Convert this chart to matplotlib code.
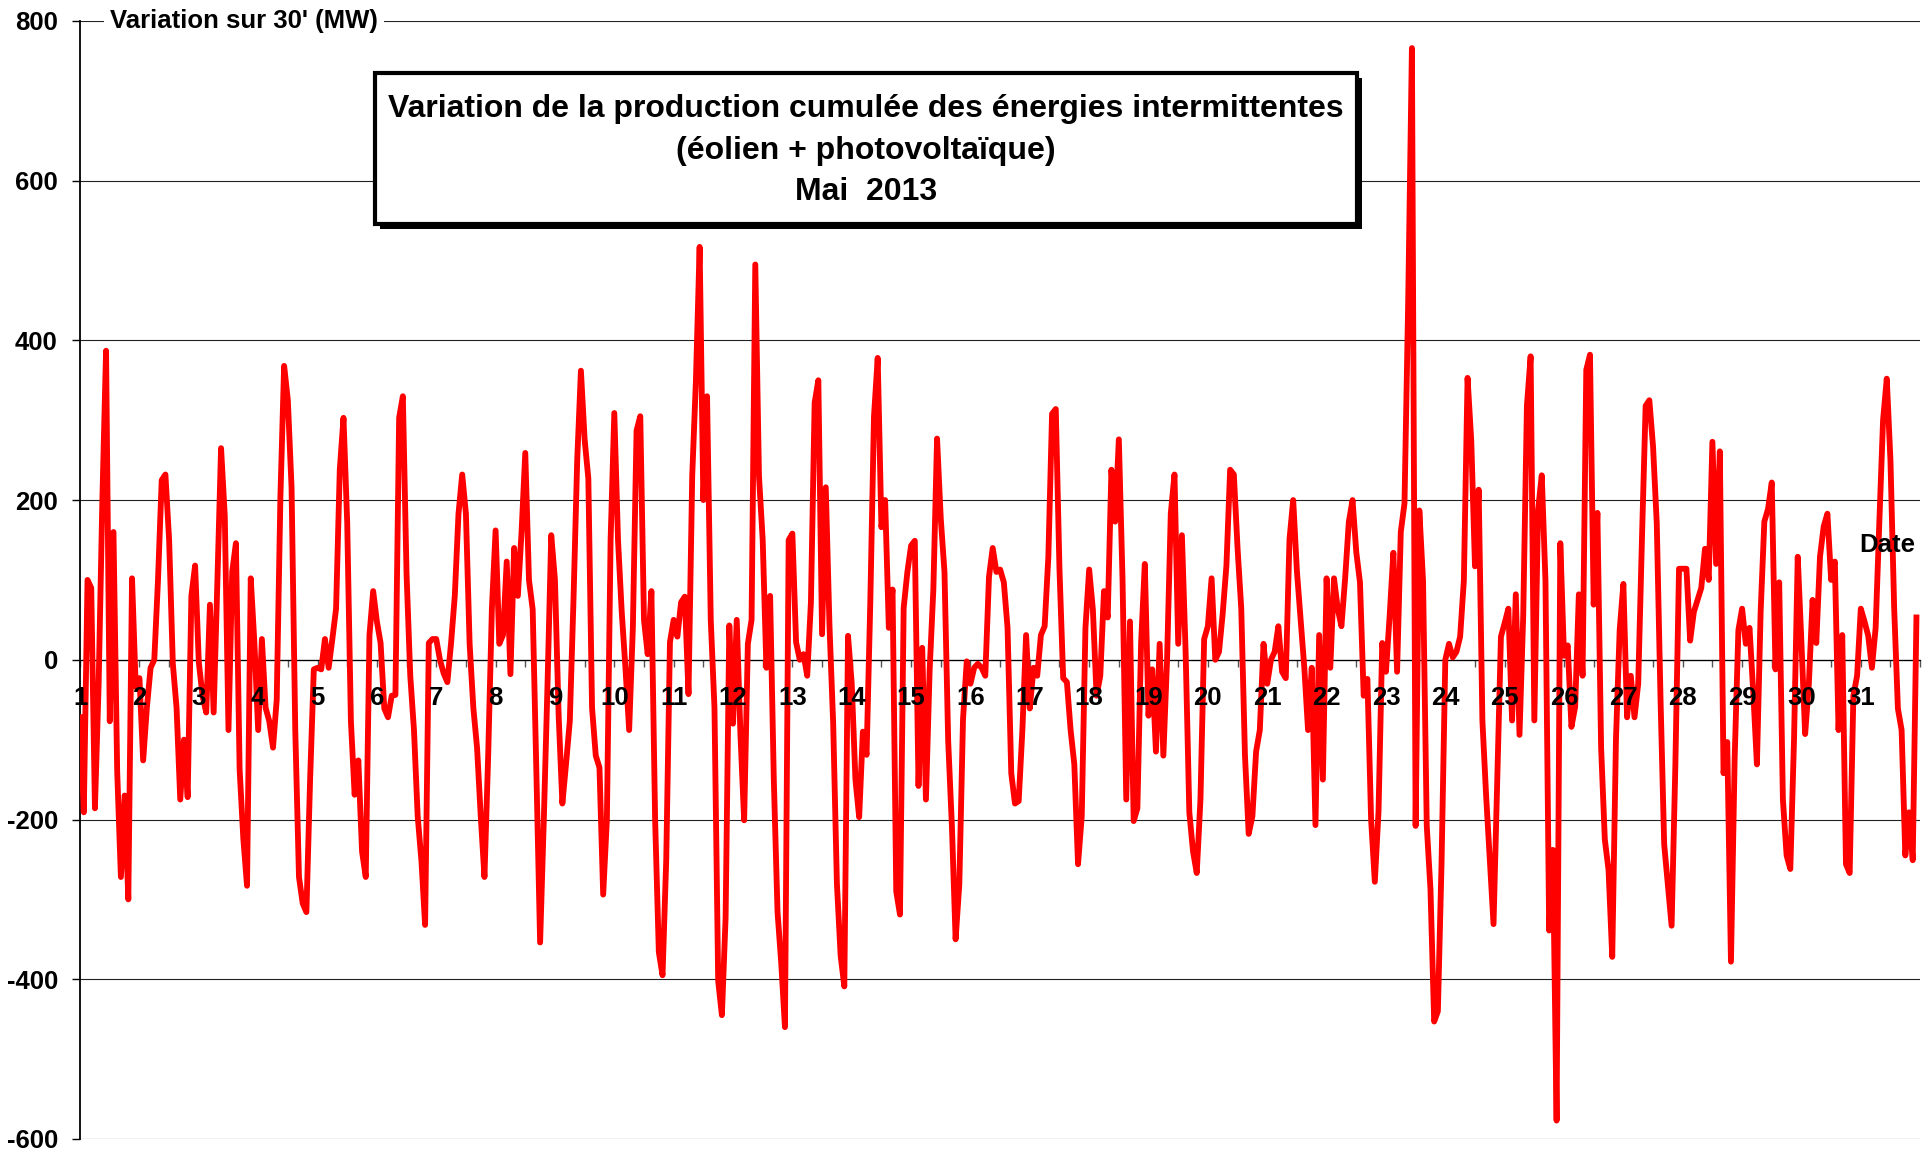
import numpy as np
import matplotlib
matplotlib.use("Agg")
import matplotlib.pyplot as plt
import matplotlib.transforms as mtransforms
from matplotlib.patches import Rectangle

plt.rcParams['font.family'] = ['Liberation Sans', 'DejaVu Sans']

day01 = [-72, -191, 100, 90, -186, -30, 200, 387, -77, 160, -140, -272, -170, -300, 102, -34]
day02 = [-23, -126, -60, -10, 0, 100, 225, 232, 150, -5, -60, -175, -100, -172, 80, 118]
day03 = [-3, -45, -66, 69, -66, 97, 265, 180, -88, 110, 146, -137, -224, -283, 102, 20]
day04 = [-88, 26, -60, -77, -110, -50, 205, 368, 325, 216, -88, -272, -305, -316, -150, -12]
day05 = [-10, -12, 26, -10, 26, 64, 238, 303, 172, -77, -169, -126, -240, -272, 31, 86]
day06 = [48, 21, -61, -72, -45, -44, 303, 330, 107, -20, -88, -196, -251, -332, 21, 26]
day07 = [26, 0, -17, -28, 21, 80, 183, 232, 183, 20, -60, -110, -196, -272, -120, 64]
day08 = [162, 20, 31, 123, -18, 140, 80, 160, 259, 100, 63, -142, -354, -200, -30, 156]
day09 = [100, -70, -180, -130, -77, 75, 250, 362, 276, 227, -60, -120, -135, -294, -200, 150]
day10 = [309, 150, 60, -10, -88, 40, 287, 305, 50, 7, 86, -200, -366, -395, -250, 22]
day11 = [50, 29, 72, 79, -43, 230, 350, 517, 200, 330, 50, -60, -402, -445, -323, 43]
day12 = [-80, 50, -93, -201, 20, 50, 495, 230, 150, -10, 80, -151, -316, -380, -460, 150]
day13 = [158, 22, 0, 7, -20, 72, 322, 350, 32, 216, 43, -80, -280, -370, -409, 30]
day14 = [-30, -150, -197, -90, -119, 71, 305, 378, 166, 200, 40, 88, -290, -319, 65, 110]
day15 = [143, 149, -158, 15, -175, -13, 88, 277, 177, 110, -102, -208, -350, -281, -74, -2]
day16 = [-30, -10, -5, -10, -20, 104, 140, 110, 113, 97, 40, -142, -180, -177, -88, 31]
day17 = [-61, -10, -20, 31, 42, 129, 308, 314, 113, -23, -28, -88, -131, -256, -196, 40]
day18 = [113, 63, -45, -20, 86, 53, 238, 173, 276, 100, -175, 48, -202, -186, 21, 120]
day19 = [-70, -12, -115, 20, -120, 0, 183, 232, 20, 156, 10, -191, -240, -267, -175, 26]
day20 = [42, 102, 0, 10, 58, 118, 238, 232, 140, 64, -120, -218, -196, -115, -88, 20]
day21 = [-30, 0, 10, 42, -15, -23, 151, 200, 111, 50, -10, -88, -10, -207, 31, -150]
day22 = [102, -10, 102, 64, 42, 102, 173, 200, 135, 97, -45, -24, -200, -278, -190, 21]
day23 = [-15, 55, 134, -15, 160, 196, 450, 766, -208, 187, 99, -208, -287, -453, -440, -252]
day24 = [0, 20, 3, 10, 29, 99, 353, 274, 117, 213, -76, -170, -250, -331, -150, 29]
day25 = [46, 64, -76, 82, -94, 55, 318, 380, -76, 187, 231, 99, -339, -238, -577, 146]
day26 = [5, 18, -84, -59, 82, -20, 363, 382, 69, 184, -110, -225, -263, -372, -100, 37]
day27 = [95, -72, -20, -72, -30, 150, 318, 325, 267, 171, -46, -231, -282, -333, -135, 114]
day28 = [114, 114, 24, 60, 75, 90, 139, 100, 273, 120, 261, -142, -103, -378, -123, 37]
day29 = [64, 20, 40, -40, -131, 60, 173, 189, 222, -12, 97, -175, -245, -262, -100, 129]
day30 = [21, -93, -30, 75, 21, 129, 167, 183, 100, 123, -88, 31, -256, -267, -45, -20]
day31 = [64, 48, 30, -10, 40, 173, 300, 352, 249, 64, -61, -88, -245, -191, -251, 53]

days = list(range(1, 32))
points_per_day = 16
variation_mw = (day01 + day02 + day03 + day04 + day05 + day06 + day07 + day08
                + day09 + day10 + day11 + day12 + day13 + day14 + day15 + day16
                + day17 + day18 + day19 + day20 + day21 + day22 + day23 + day24
                + day25 + day26 + day27 + day28 + day29 + day30 + day31)
y_ticks = [-600, -400, -200, 0, 200, 400, 600, 800]

title_lines = ["Variation de la production cumulée des énergies intermittentes",
               "(éolien + photovoltaïque)",
               "Mai  2013"]

# temps en jours depuis le 1er mai 0h
t = np.arange(len(variation_mw)) / points_per_day

fig = plt.figure(figsize=(19.3, 11.55), dpi=100)
ax = fig.add_axes([0.0415, 0.0139, 0.9534, 0.968])

ax.plot(t, variation_mw, color='#ff0000', lw=4.2, solid_joinstyle='round', zorder=3)

ax.set_xlim(0, len(days))
ax.set_ylim(y_ticks[0], y_ticks[-1])

for s in ['top', 'right']:
    ax.spines[s].set_visible(False)
ax.spines['bottom'].set_position(('data', 0))
ax.spines['bottom'].set_linewidth(0.9)
ax.spines['left'].set_linewidth(1.3)

# axe vertical
ax.set_yticks(y_ticks)
ax.set_yticklabels([str(v) for v in y_ticks], fontsize=18.5, fontweight='bold')
ax.tick_params(axis='y', direction='out', length=6, width=1, pad=10)
ax.yaxis.grid(True, color='#222222', lw=0.8)

# graduations toutes les demi-journées, numéros des jours à la main
ax.set_xticks(np.arange(0, len(days) + 0.5, 0.5))
ax.set_xticklabels([])
ax.tick_params(axis='x', direction='out', length=5, width=1, color='#555555')
for i, d in enumerate(days):
    ax.text(i, -48, str(d), ha='center', va='center', fontsize=18.5,
            fontweight='bold', zorder=5)

trans = mtransforms.blended_transform_factory(ax.transAxes, ax.transData)
ax.text(0.0163, y_ticks[-1], "Variation sur 30' (MW)", transform=trans,
        ha='left', va='center', fontsize=18.5, fontweight='bold', zorder=5,
        clip_on=False, bbox=dict(fc='white', ec='none', pad=4))
ax.text(0.982, 0.531, "Date", transform=ax.transAxes, ha='center', va='center',
        fontsize=18.5, fontweight='bold', zorder=5)

# cadre du titre avec ombre
fig.add_artist(Rectangle((0.1969, 0.8018), 0.5088, 0.1307, transform=fig.transFigure,
                         fc='black', ec='black', lw=0, zorder=10))
fig.add_artist(Rectangle((0.1943, 0.8061), 0.5088, 0.1307, transform=fig.transFigure,
                         fc='white', ec='black', lw=3, zorder=11))
for k, line in enumerate(title_lines):
    fig.text(0.4487, 0.9052 - k * 0.0357, line, ha='center', va='center',
             fontsize=23, fontweight='bold', zorder=12)

fig.savefig('out.png', dpi=100)
